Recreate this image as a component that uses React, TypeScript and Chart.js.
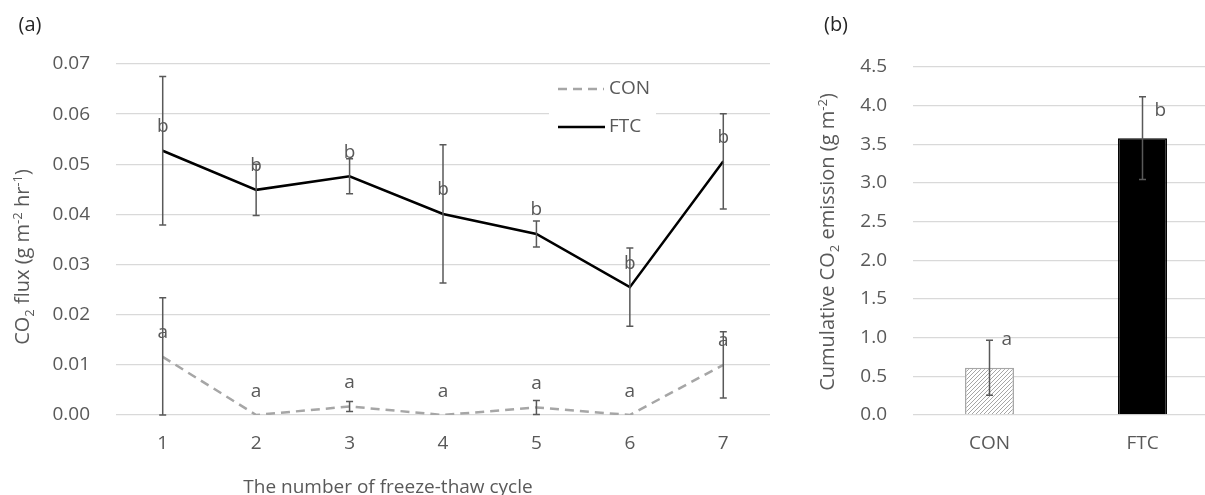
import React, { useEffect, useRef } from 'react';
import { Chart, registerables } from 'chart.js';

Chart.register(...registerables);

// ---------- data ----------
const cycles = ['1', '2', '3', '4', '5', '6', '7'];
const conFlux = [0.0116, 0.0, 0.0017, 0.0, 0.0015, 0.0, 0.01];
const conFluxSd = [0.0118, 0, 0.001, 0, 0.0014, 0, 0.0066];
const ftcFlux = [0.0527, 0.0449, 0.0476, 0.0401, 0.0361, 0.0255, 0.0506];
const ftcFluxSd = [0.0148, 0.0051, 0.0035, 0.0138, 0.0026, 0.0078, 0.0095];
const conLetters = ['a', 'a', 'a', 'a', 'a', 'a', 'a'];
const ftcLetters = ['b', 'b', 'b', 'b', 'b', 'b', 'b'];

const treatments = ['CON', 'FTC'];
const cumulative = [0.61, 3.58];
const cumulativeSd = [0.355, 0.535];
const cumulativeLetters = ['a', 'b'];

// ---------- style ----------
const FONT = '"Open Sans", "Noto Sans", sans-serif';
const TXT = '#595959';
const GRID = '#D9D9D9';
const CON_COLOR = '#A6A6A6';
const TICK_SIZE = 19;
const TITLE_SIZE = 20;

type Seg = { text: string; t?: 'sub' | 'sup' };

function drawRich(
  ctx: CanvasRenderingContext2D,
  segs: Seg[],
  cx: number,
  cy: number,
  rotate: boolean,
  size: number,
  color: string
) {
  ctx.save();
  ctx.translate(cx, cy);
  if (rotate) ctx.rotate(-Math.PI / 2);
  const fs = (s: Seg) => (s.t ? size * 0.65 : size);
  const widths = segs.map((s) => {
    ctx.font = `${fs(s)}px ${FONT}`;
    return ctx.measureText(s.text).width;
  });
  const total = widths.reduce((a, b) => a + b, 0);
  let x = -total / 2;
  ctx.fillStyle = color;
  ctx.textAlign = 'left';
  ctx.textBaseline = 'alphabetic';
  const base = size * 0.36;
  segs.forEach((s, i) => {
    ctx.font = `${fs(s)}px ${FONT}`;
    const dy = s.t === 'sub' ? size * 0.22 : s.t === 'sup' ? -size * 0.38 : 0;
    ctx.fillText(s.text, x, base + dy);
    x += widths[i];
  });
  ctx.restore();
}

function drawErrorBar(ctx: CanvasRenderingContext2D, x: number, yTop: number, yBot: number, cap: number) {
  ctx.beginPath();
  ctx.moveTo(x, yTop);
  ctx.lineTo(x, yBot);
  ctx.moveTo(x - cap, yTop);
  ctx.lineTo(x + cap, yTop);
  ctx.moveTo(x - cap, yBot);
  ctx.lineTo(x + cap, yBot);
  ctx.stroke();
}

export default function App() {
  const leftRef = useRef<HTMLCanvasElement>(null);
  const rightRef = useRef<HTMLCanvasElement>(null);

  useEffect(() => {
    const lc = leftRef.current!;
    const rc = rightRef.current!;

    // ---- left panel: line chart ----
    const lineExtras = {
      id: 'lineExtras',
      afterDatasetsDraw(chart: any) {
        const ctx: CanvasRenderingContext2D = chart.ctx;
        const ys = chart.scales.y;
        const sds = [conFluxSd, ftcFluxSd];
        const vals = [conFlux, ftcFlux];
        const letters = [conLetters, ftcLetters];
        ctx.save();
        ctx.strokeStyle = TXT;
        ctx.lineWidth = 1.5;
        for (let d = 0; d < 2; d++) {
          const meta = chart.getDatasetMeta(d);
          meta.data.forEach((el: any, i: number) => {
            const sd = sds[d][i];
            if (sd > 0) {
              const v = vals[d][i];
              drawErrorBar(ctx, el.x, ys.getPixelForValue(v + sd), ys.getPixelForValue(Math.max(0, v - sd)), 3.5);
            }
          });
        }
        ctx.fillStyle = TXT;
        ctx.font = `${TICK_SIZE}px ${FONT}`;
        ctx.textAlign = 'center';
        ctx.textBaseline = 'alphabetic';
        for (let d = 0; d < 2; d++) {
          const meta = chart.getDatasetMeta(d);
          meta.data.forEach((el: any, i: number) => {
            ctx.fillText(letters[d][i], el.x, el.y - 18.5);
          });
        }
        // legend
        ctx.fillStyle = '#ffffff';
        ctx.fillRect(549, 68, 107, 78);
        ctx.lineWidth = 2.5;
        ctx.strokeStyle = CON_COLOR;
        ctx.setLineDash([9, 6]);
        ctx.beginPath();
        ctx.moveTo(558, 89);
        ctx.lineTo(604, 89);
        ctx.stroke();
        ctx.setLineDash([]);
        ctx.strokeStyle = '#000';
        ctx.beginPath();
        ctx.moveTo(558, 127);
        ctx.lineTo(605, 127);
        ctx.stroke();
        ctx.fillStyle = TXT;
        ctx.textAlign = 'left';
        ctx.textBaseline = 'middle';
        ctx.font = `${TICK_SIZE}px ${FONT}`;
        ctx.fillText('CON', 609, 89);
        ctx.fillText('FTC', 609, 127);
        ctx.restore();
      },
      afterDraw(chart: any) {
        const ctx: CanvasRenderingContext2D = chart.ctx;
        drawRich(
          ctx,
          [{ text: 'CO' }, { text: '2', t: 'sub' }, { text: ' flux (g m' }, { text: '-2', t: 'sup' }, { text: ' hr' }, { text: '-1', t: 'sup' }, { text: ')' }],
          22,
          257,
          true,
          TITLE_SIZE,
          TXT
        );
        drawRich(ctx, [{ text: 'The number of freeze-thaw cycle' }], 388, 486, false, 19, TXT);
        drawRich(ctx, [{ text: '(a)' }], 30, 24, false, 20, '#262626');
      },
    };

    const leftChart = new Chart(lc, {
      type: 'line',
      data: {
        labels: cycles,
        datasets: [
          {
            label: 'CON',
            data: conFlux,
            borderColor: CON_COLOR,
            borderWidth: 2.5,
            borderDash: [9, 6],
            pointRadius: 0,
            fill: false,
            tension: 0,
          },
          {
            label: 'FTC',
            data: ftcFlux,
            borderColor: '#000000',
            borderWidth: 2.5,
            pointRadius: 0,
            fill: false,
            tension: 0,
          },
        ],
      },
      options: {
        responsive: false,
        animation: false,
        layout: { padding: { left: 0, right: 20, top: 64, bottom: 0 } },
        plugins: { legend: { display: false }, tooltip: { enabled: false } },
        scales: {
          x: {
            type: 'category',
            offset: true,
            grid: { display: false, drawTicks: false },
            border: { display: false },
            ticks: { color: TXT, font: { family: FONT, size: TICK_SIZE }, padding: 17, maxRotation: 0 },
            afterFit: (s: any) => {
              s.height = 80;
            },
          },
          y: {
            min: 0,
            max: 0.07,
            grid: { color: GRID, lineWidth: 1.3, drawTicks: false },
            border: { display: false },
            ticks: {
              stepSize: 0.01,
              color: TXT,
              padding: 26,
              font: { family: FONT, size: TICK_SIZE },
              callback: (v: any) => Number(v).toFixed(2),
            },
            afterFit: (s: any) => {
              s.width = 116;
            },
          },
        },
      },
      plugins: [lineExtras],
    } as any);

    // ---- right panel: bar chart ----
    const T = 4;
    const pc = document.createElement('canvas');
    pc.width = T;
    pc.height = T;
    const pctx = pc.getContext('2d')!;
    pctx.fillStyle = '#ffffff';
    pctx.fillRect(0, 0, T, T);
    pctx.strokeStyle = CON_COLOR;
    pctx.lineWidth = 1;
    pctx.beginPath();
    pctx.moveTo(0, T);
    pctx.lineTo(T, 0);
    pctx.moveTo(-1, 1);
    pctx.lineTo(1, -1);
    pctx.moveTo(T - 1, T + 1);
    pctx.lineTo(T + 1, T - 1);
    pctx.stroke();
    const hatch = rc.getContext('2d')!.createPattern(pc, 'repeat');

    const barExtras = {
      id: 'barExtras',
      afterDatasetsDraw(chart: any) {
        const ctx: CanvasRenderingContext2D = chart.ctx;
        const ys = chart.scales.y;
        const meta = chart.getDatasetMeta(0);
        ctx.save();
        ctx.strokeStyle = TXT;
        ctx.lineWidth = 1.5;
        meta.data.forEach((el: any, i: number) => {
          const v = cumulative[i];
          const sd = cumulativeSd[i];
          drawErrorBar(ctx, el.x, ys.getPixelForValue(v + sd), ys.getPixelForValue(Math.max(0, v - sd)), 3.5);
        });
        ctx.fillStyle = TXT;
        ctx.font = `${TICK_SIZE}px ${FONT}`;
        ctx.textAlign = 'left';
        ctx.textBaseline = 'alphabetic';
        meta.data.forEach((el: any, i: number) => {
          ctx.fillText(cumulativeLetters[i], el.x + 12, el.y - 22.5);
        });
        ctx.restore();
      },
      afterDraw(chart: any) {
        const ctx: CanvasRenderingContext2D = chart.ctx;
        drawRich(
          ctx,
          [{ text: 'Cumulative CO' }, { text: '2', t: 'sub' }, { text: ' emission (g m' }, { text: '-2', t: 'sup' }, { text: ')' }],
          37,
          242,
          true,
          TITLE_SIZE,
          TXT
        );
        drawRich(ctx, [{ text: '(b)' }], 46, 24, false, 20, '#262626');
      },
    };

    const rightChart = new Chart(rc, {
      type: 'bar',
      data: {
        labels: treatments,
        datasets: [
          {
            label: 'Cumulative',
            data: cumulative,
            backgroundColor: [hatch as any, '#000000'],
            borderColor: [CON_COLOR, '#000000'],
            borderWidth: 1.5,
            categoryPercentage: 1,
            barPercentage: 0.32,
          },
        ],
      },
      options: {
        responsive: false,
        animation: false,
        layout: { padding: { left: 0, right: 11, top: 67, bottom: 0 } },
        plugins: { legend: { display: false }, tooltip: { enabled: false } },
        scales: {
          x: {
            grid: { display: false, drawTicks: false },
            border: { display: false },
            ticks: { color: TXT, font: { family: FONT, size: TICK_SIZE }, padding: 17 },
            afterFit: (s: any) => {
              s.height = 80;
            },
          },
          y: {
            min: 0,
            max: 4.5,
            grid: { color: GRID, lineWidth: 1.3, drawTicks: false },
            border: { display: false },
            ticks: {
              stepSize: 0.5,
              color: TXT,
              padding: 26,
              font: { family: FONT, size: TICK_SIZE },
              callback: (v: any) => Number(v).toFixed(1),
            },
            afterFit: (s: any) => {
              s.width = 123;
            },
          },
        },
      },
      plugins: [barExtras],
    } as any);

    return () => {
      leftChart.destroy();
      rightChart.destroy();
    };
  }, []);

  return (
    <div
      style={{
        position: 'fixed',
        left: 0,
        top: 0,
        width: 1205,
        height: 495,
        overflow: 'hidden',
        background: '#ffffff',
      }}
    >
      <canvas
        ref={leftRef}
        width={790}
        height={495}
        style={{ position: 'absolute', left: 0, top: 0, width: 790, height: 495 }}
      />
      <canvas
        ref={rightRef}
        width={440}
        height={495}
        style={{ position: 'absolute', left: 790, top: 0, width: 440, height: 495 }}
      />
    </div>
  );
}
